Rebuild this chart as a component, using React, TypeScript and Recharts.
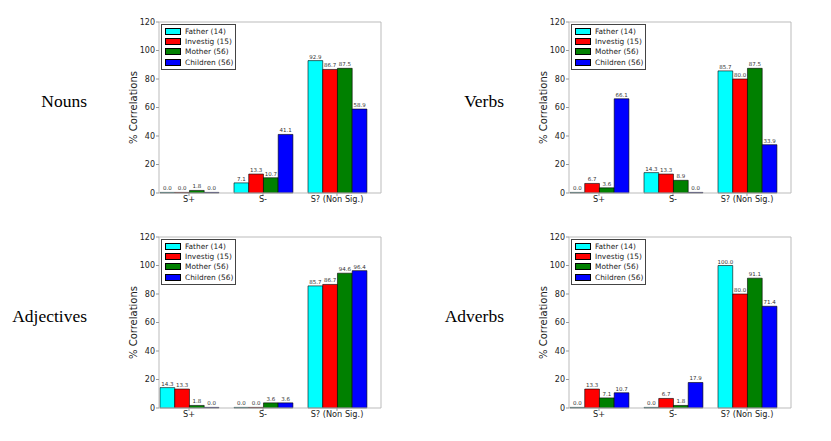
import { Bar, BarChart, LabelList, Legend, XAxis, YAxis } from "recharts";

const categories = ["S+", "S-", "S? (Non Sig.)"];
const seriesNames = ["Father (14)", "Investig (15)", "Mother (56)", "Children (56)"];
const seriesColors = ["#00ffff", "#ff0000", "#008000", "#0000ff"];
const yTicks = [0, 20, 40, 60, 80, 100, 120];

const nounsFather = [0.0, 7.1, 92.9];
const nounsInvestig = [0.0, 13.3, 86.7];
const nounsMother = [1.8, 10.7, 87.5];
const nounsChildren = [0.0, 41.1, 58.9];

const verbsFather = [0.0, 14.3, 85.7];
const verbsInvestig = [6.7, 13.3, 80.0];
const verbsMother = [3.6, 8.9, 87.5];
const verbsChildren = [66.1, 0.0, 33.9];

const adjectivesFather = [14.3, 0.0, 85.7];
const adjectivesInvestig = [13.3, 0.0, 86.7];
const adjectivesMother = [1.8, 3.6, 94.6];
const adjectivesChildren = [0.0, 3.6, 96.4];

const adverbsFather = [0.0, 0.0, 100.0];
const adverbsInvestig = [13.3, 6.7, 80.0];
const adverbsMother = [7.1, 1.8, 91.1];
const adverbsChildren = [10.7, 17.9, 71.4];

// layout of the 2x2 grid (page pixels)
const panels = [
  { title: "Nouns", series: [nounsFather, nounsInvestig, nounsMother, nounsChildren], left: 100, top: 0, titleRight: 87 },
  { title: "Verbs", series: [verbsFather, verbsInvestig, verbsMother, verbsChildren], left: 510, top: 0, titleRight: 504 },
  { title: "Adjectives", series: [adjectivesFather, adjectivesInvestig, adjectivesMother, adjectivesChildren], left: 100, top: 215, titleRight: 87 },
  { title: "Adverbs", series: [adverbsFather, adverbsInvestig, adverbsMother, adverbsChildren], left: 510, top: 215, titleRight: 504 },
];

const SPINE = "#bbbbbb";
const TICK = "#999999";
const TEXT = "#222222";

function buildRows(series: number[][]) {
  return categories.map((category, i) => {
    const row: Record<string, string | number> = { category };
    series.forEach((values, s) => {
      row[`s${s}`] = values[i];
    });
    return row;
  });
}

const LegendBox = ({ payload }: any) => {
  const items = [...(payload ?? [])].sort(
    (a: any, b: any) => seriesNames.indexOf(a.value) - seriesNames.indexOf(b.value),
  );
  return (
    <div
      style={{
        border: "1px solid #444",
        background: "#fff",
        padding: "1px 0",
        fontFamily: "DejaVu Sans",
        fontSize: 7.4,
        color: TEXT,
        width: 73,
        whiteSpace: "nowrap",
      }}
    >
      {items.map((p: any) => (
        <div key={p.value} style={{ display: "flex", alignItems: "center", height: 10.4 }}>
          <span
            style={{
              display: "inline-block",
              flexShrink: 0,
              width: 14,
              height: 5,
              background: p.color,
              border: "1px solid #000",
              marginLeft: 3,
              marginRight: 4,
            }}
          />
          <span>{p.value}</span>
        </div>
      ))}
    </div>
  );
};

function Panel({ title, series, left, top, titleRight }: (typeof panels)[number]) {
  const rows = buildRows(series);
  return (
    <>
      <div
        style={{
          position: "absolute",
          left: 0,
          top: top + 92.5,
          width: titleRight,
          textAlign: "right",
          fontFamily: "Liberation Serif",
          fontSize: 17.5,
          lineHeight: "17px",
          color: "#000",
        }}
      >
        {title}
      </div>
      <div style={{ position: "absolute", left, top, fontFamily: "DejaVu Sans" }}>
        <BarChart
          width={300}
          height={215}
          data={rows}
          margin={{ top: 21, right: 19, bottom: 0, left: 0 }}
          barGap={0}
          barSize={14.73}
        >
          <XAxis
            xAxisId="main"
            dataKey="category"
            interval={0}
            height={22}
            padding={{ left: -7, right: 7 }}
            tickSize={3}
            tickMargin={0}
            tick={{ fontSize: 8.2, fill: TEXT }}
            axisLine={{ stroke: SPINE }}
            tickLine={{ stroke: TICK }}
          />
          <XAxis
            xAxisId="top"
            orientation="top"
            dataKey="category"
            height={1}
            padding={{ left: -7, right: 7 }}
            tick={false}
            tickLine={false}
            axisLine={{ stroke: SPINE }}
          />
          <YAxis
            yAxisId="left"
            width={59}
            domain={[0, 120]}
            ticks={yTicks}
            interval={0}
            tickSize={3}
            tickMargin={1}
            tick={{ fontSize: 8, fill: TEXT }}
            axisLine={{ stroke: SPINE }}
            tickLine={{ stroke: TICK }}
            label={{
              value: "% Correlations",
              angle: -90,
              position: "insideLeft",
              offset: 33,
              style: { textAnchor: "middle", fontSize: 10, fill: TEXT },
            }}
          />
          <YAxis
            yAxisId="right"
            orientation="right"
            width={1}
            domain={[0, 120]}
            ticks={yTicks}
            interval={0}
            mirror
            tickSize={3}
            tick={false}
            axisLine={{ stroke: SPINE }}
            tickLine={{ stroke: TICK }}
          />
          <Legend
            layout="horizontal"
            verticalAlign="middle"
            align="center"
            content={(props: any) => <LegendBox {...props} />}
            wrapperStyle={{ left: 61, top: 24, width: 75, height: 46 }}
          />
          {seriesNames.map((name, i) => (
            <Bar
              key={name}
              xAxisId="main"
              yAxisId="left"
              dataKey={`s${i}`}
              name={name}
              fill={seriesColors[i]}
              stroke="#000"
              strokeWidth={0.6}
              minPointSize={0.6}
              isAnimationActive={false}
            >
              <LabelList
                dataKey={`s${i}`}
                position="top"
                offset={2}
                fontSize={5.5}
                fill="#333"
                formatter={(v: any) => Number(v).toFixed(1)}
              />
            </Bar>
          ))}
        </BarChart>
      </div>
    </>
  );
}

export default function App() {
  return (
    <div
      style={{
        position: "absolute",
        left: 0,
        top: 0,
        width: 831,
        height: 441,
        background: "#fff",
      }}
    >
      {panels.map((p) => (
        <Panel key={p.title} {...p} />
      ))}
    </div>
  );
}
